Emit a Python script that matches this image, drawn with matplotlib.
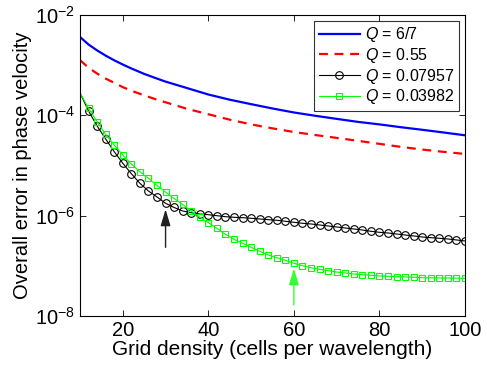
import matplotlib
matplotlib.use("Agg")
import matplotlib.pyplot as plt

plt.rcParams['font.family'] = ['Liberation Sans', 'DejaVu Sans']
plt.rcParams['mathtext.fontset'] = 'custom'
plt.rcParams['mathtext.rm'] = 'Liberation Sans'
plt.rcParams['mathtext.it'] = 'Liberation Sans:italic'

# smooth curves (no markers)
x_smooth = [10, 12, 14, 16, 18, 20, 22, 25, 28, 30, 35, 40, 45, 50, 55, 60, 65, 70,
            75, 80, 85, 90, 95, 100]
err_q67 = [3.65e-3, 2.58e-3, 1.97e-3, 1.55e-3, 1.25e-3, 1.03e-3, 8.6e-4, 6.7e-4,
           5.4e-4, 4.7e-4, 3.5e-4, 2.6e-4, 2.05e-4, 1.67e-4, 1.37e-4, 1.14e-4,
           9.8e-5, 8.5e-5, 7.4e-5, 6.6e-5, 5.8e-5, 5.15e-5, 4.55e-5, 4.0e-5]
err_q055 = [1.26e-3, 8.9e-4, 6.8e-4, 5.4e-4, 4.45e-4, 3.65e-4, 3.1e-4, 2.5e-4,
            2.05e-4, 1.82e-4, 1.35e-4, 1.05e-4, 8.2e-5, 6.6e-5, 5.5e-5, 4.65e-5,
            4.05e-5, 3.55e-5, 3.1e-5, 2.7e-5, 2.35e-5, 2.08e-5, 1.87e-5, 1.7e-5]

# curves with markers, every 2 cells per wavelength
x_grid = list(range(10, 101, 2))
err_q07957 = [2.79e-4, 1.22e-4, 6.13e-5, 3.38e-5, 1.885e-5, 1.107e-5, 6.87e-6, 4.42e-6,
              3.10e-6, 2.36e-6, 1.765e-6, 1.455e-6, 1.24e-6, 1.147e-6, 1.08e-6, 1.046e-6,
              9.99e-7, 9.54e-7, 9.28e-7, 9.11e-7, 8.87e-7, 8.59e-7, 8.32e-7, 8.09e-7,
              7.73e-7, 7.38e-7, 7.05e-7, 6.83e-7, 6.52e-7, 6.23e-7, 5.95e-7, 5.68e-7,
              5.43e-7, 5.18e-7, 4.88e-7, 4.66e-7, 4.52e-7, 4.31e-7, 4.12e-7, 3.94e-7,
              3.76e-7, 3.64e-7, 3.54e-7, 3.43e-7, 3.28e-7, 3.13e-7]
err_q03982 = [2.79e-4, 1.381e-4, 7.47e-5, 4.19e-5, 2.56e-5, 1.62e-5, 1.07e-5, 7.52e-6,
              5.56e-6, 4.00e-6, 2.96e-6, 2.20e-6, 1.67e-6, 1.24e-6, 9.28e-7, 7.25e-7,
              5.60e-7, 4.25e-7, 3.38e-7, 2.81e-7, 2.34e-7, 1.95e-7, 1.646e-7, 1.454e-7,
              1.29e-7, 1.124e-7, 1.007e-7, 9.19e-8, 8.53e-8, 8.00e-8, 7.54e-8, 7.20e-8,
              6.88e-8, 6.66e-8, 6.48e-8, 6.28e-8, 6.19e-8, 6.08e-8, 6.00e-8, 5.92e-8,
              5.80e-8, 5.78e-8, 5.73e-8, 5.73e-8, 5.67e-8, 5.65e-8]

labels = ['$Q$ = 6/7', '$Q$ = 0.55', '$Q$ = 0.07957', '$Q$ = 0.03982']

# arrows marking the points of interest
arrow_x = [30, 60]
arrow_tail = [2.34e-7, 1.66e-8]
arrow_tip = [1.34e-6, 8.9e-8]
arrow_cols = ['#222222', '#33ff33']

fig = plt.figure(figsize=(4.87, 3.71), dpi=100)
ax = fig.add_axes([80/487, 1-316/371, 385/487, 301/371])

ax.semilogy(x_smooth, err_q67, color='#0000ff', lw=1.6, label=labels[0])
ax.semilogy(x_smooth, err_q055, color='#ff0000', lw=1.6, ls=(0, (4, 3)), label=labels[1])
ax.semilogy(x_grid, err_q07957, color='k', lw=0.8, marker='o', ms=5.5, mfc='none',
            mew=0.8, markevery=slice(1, None), label=labels[2])
ax.semilogy(x_grid, err_q03982, color='#00ff00', lw=0.8, marker='s', ms=4.5, mfc='none',
            mew=0.8, markevery=slice(1, None), label=labels[3])

for xa, t0, t1, c in zip(arrow_x, arrow_tail, arrow_tip, arrow_cols):
    ax.annotate('', xy=(xa, t1), xytext=(xa, t0),
                arrowprops=dict(arrowstyle='-|>,head_length=1.0,head_width=0.3',
                                color=c, lw=1.0, shrinkA=0, shrinkB=0))

ax.set_xlim(10, 100)
ax.set_ylim(1e-8, 1e-2)
ax.set_xticks([20, 40, 60, 80, 100])
ax.set_yticks([1e-8, 1e-6, 1e-4, 1e-2])
ax.minorticks_off()
ax.tick_params(direction='in', top=True, right=True, labelsize=14.5, length=4, width=0.6)
for s in ax.spines.values():
    s.set_linewidth(0.8)

ax.set_xlabel('Grid density (cells per wavelength)', fontsize=15, labelpad=0)
ax.set_ylabel('Overall error in phase velocity', fontsize=14.5, labelpad=2)

leg = ax.legend(loc='upper right', fontsize=11.5, frameon=True, fancybox=False,
                handlelength=2.6, handletextpad=0.3, borderpad=0.3, labelspacing=0.1,
                borderaxespad=0.35)
leg.get_frame().set_edgecolor('k')
leg.get_frame().set_linewidth(0.8)

fig.savefig('out.png', dpi=100)
